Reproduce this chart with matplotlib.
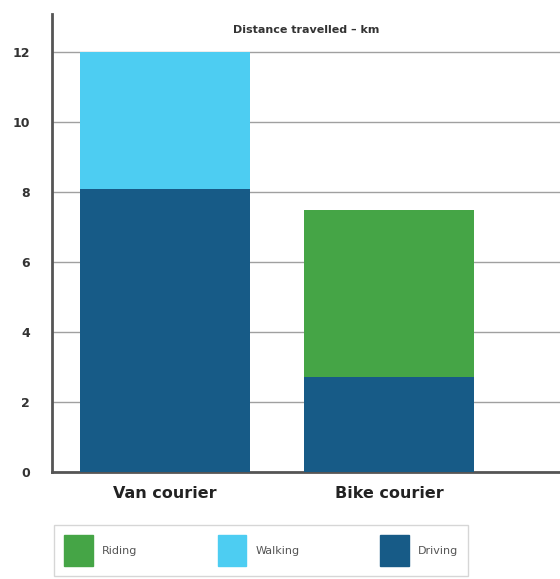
import matplotlib.pyplot as plt
from matplotlib.patches import Patch

couriers = ['Van courier', 'Bike courier']
driving = [8.1, 2.7]
walking = [3.9, 0.0]
riding = [0.0, 4.8]

c_driving = '#175b87'
c_walking = '#4dcdf2'
c_riding = '#45a546'

fig = plt.figure(figsize=(5.6, 5.79), dpi=100)
ax = fig.add_axes([0.093, 0.185, 0.907, 0.791])

x = [0, 1]
w = 0.76
ax.bar(x, driving, width=w, color=c_driving, zorder=3)
ax.bar(x, walking, width=w, bottom=driving, color=c_walking, zorder=3)
bottom2 = [d + wk for d, wk in zip(driving, walking)]
ax.bar(x, riding, width=w, bottom=bottom2, color=c_riding, zorder=3)

ax.set_xlim(-0.504, 1.763)
ax.set_ylim(0, 13.1)
ax.set_yticks(range(0, 13, 2))
ax.set_yticklabels([str(v) for v in range(0, 13, 2)], fontsize=9, fontweight='bold', color='#333333')
ax.set_xticks(x)
ax.set_xticklabels(couriers, fontsize=11.5, fontweight='bold', color='#222222')
ax.tick_params(axis='y', length=0, pad=16)
ax.tick_params(axis='x', length=0, pad=10)
ax.grid(axis='y', color='#a0a0a0', linewidth=1.0, zorder=1)
for s in ['top', 'right']:
    ax.spines[s].set_visible(False)
ax.spines['left'].set_color('#555555')
ax.spines['left'].set_linewidth(2)
ax.spines['bottom'].set_color('#555555')
ax.spines['bottom'].set_linewidth(2)

ax.text(0.5, 0.965, 'Distance travelled – km', transform=ax.transAxes,
        ha='center', va='center', fontsize=8, fontweight='bold', color='#333333')

handles = [Patch(color=c_riding, label='Riding'),
           Patch(color=c_walking, label='Walking'),
           Patch(color=c_driving, label='Driving')]
leg = fig.legend(handles=handles, loc='upper left', ncol=3, mode='expand',
                 bbox_to_anchor=(0.086, -0.05, 0.76, 0.152), fontsize=8,
                 handlelength=2.6, handleheight=3.9, frameon=True, fancybox=False,
                 borderpad=0.9, columnspacing=2.5, handletextpad=0.8)
leg.get_frame().set_edgecolor('#cccccc')
leg.get_frame().set_linewidth(1)
for t in leg.get_texts():
    t.set_color('#555555')

fig.savefig('out.png', dpi=100)
